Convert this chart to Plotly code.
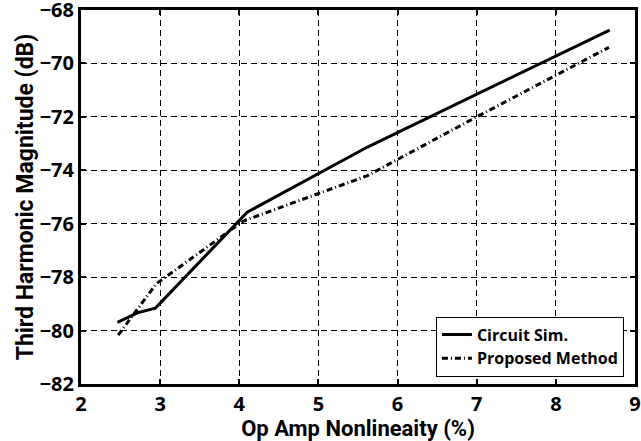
import plotly.graph_objects as go

sim_x = [2.46, 2.72, 2.94, 4.10, 5.62, 8.68]
sim_y = [-79.69, -79.33, -79.16, -75.57, -73.13, -68.75]
prop_x = [2.47, 2.95, 4.05, 5.62, 7.00, 8.67]
prop_y = [-80.17, -78.25, -75.90, -74.20, -72.00, -69.40]
x_ticks = [2, 3, 4, 5, 6, 7, 8, 9]
y_ticks = [-82, -80, -78, -76, -74, -72, -70, -68]

FONT = "Roboto"
TFONT = "Open Sans"

fig = go.Figure()
fig.add_trace(go.Scatter(x=sim_x, y=sim_y, mode="lines", name="Circuit Sim.",
                         line=dict(color="black", width=3)))
fig.add_trace(go.Scatter(x=prop_x, y=prop_y, mode="lines", name="Proposed Method",
                         line=dict(color="black", width=3, dash="6px,3px,1px,3px")))

axis_common = dict(
    showline=True, linecolor="black", linewidth=3, mirror="ticks",
    ticks="inside", ticklen=5, tickwidth=1.5, tickcolor="black",
    showgrid=True, gridcolor="black", gridwidth=1, griddash="6px,4px",
    zeroline=False, automargin=False, ticklabeloverflow="allow",
    tickfont=dict(family=TFONT, size=20, color="black", weight=700),
)

fig.update_xaxes(range=[2, 9], tickvals=x_ticks,
                 title=dict(text="Op Amp Nonlineaity (%)", standoff=0,
                            font=dict(family=FONT, size=22, color="black", weight=700)),
                 **axis_common)
fig.update_yaxes(range=[-82, -68], tickvals=y_ticks,
                 title=dict(text="Third Harmonic Magnitude (dB)", standoff=0,
                            font=dict(family=FONT, size=23, color="black", weight=700)),
                 **axis_common)

fig.update_layout(
    width=641, height=441,
    margin=dict(l=81, r=6, t=10, b=57),
    paper_bgcolor="white", plot_bgcolor="white",
    font=dict(family=FONT, color="black", weight=700),
    showlegend=True,
    legend=dict(x=0.98, y=0.02, xanchor="right", yanchor="bottom",
                bgcolor="white", bordercolor="black", borderwidth=1,
                font=dict(family=TFONT, size=16, color="black", weight=700),
                tracegroupgap=0, itemwidth=30),
)

fig.write_html("out.html", config={"displayModeBar": False},
               post_script="document.body.style.margin='0';")
